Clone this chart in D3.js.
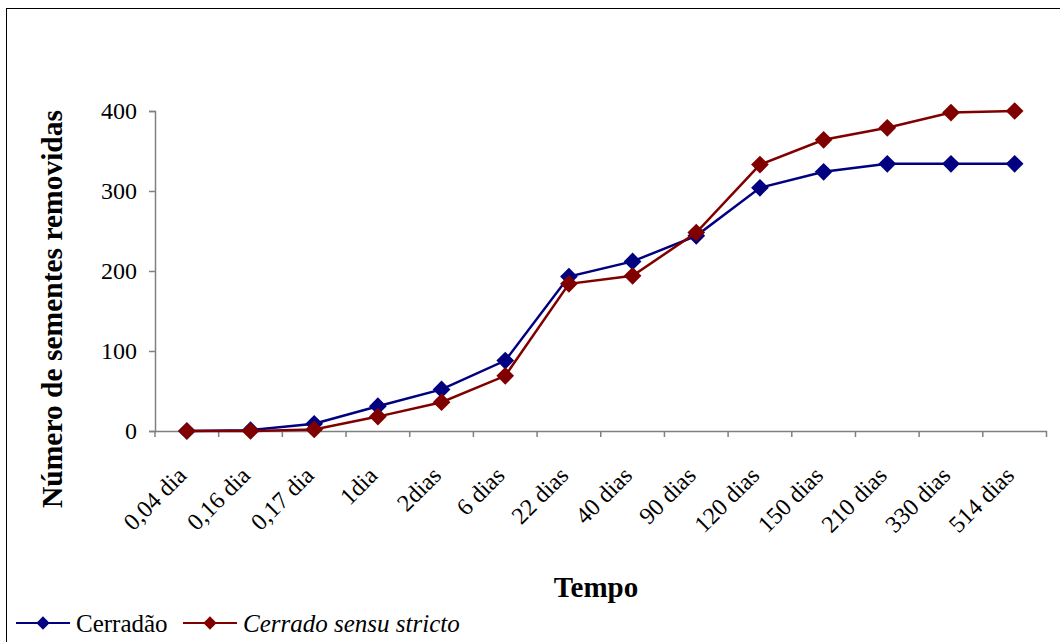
<!DOCTYPE html>
<html>
<head>
<meta charset="utf-8">
<script src="https://cdn.jsdelivr.net/npm/d3@7"></script>
<style>
  body { margin: 0; background: #fff; }
  text { font-family: "Liberation Serif", "Times New Roman", serif; fill: #000; }
</style>
</head>
<body>
<svg id="chart" width="1060" height="642"></svg>
<script>
const categories = ["0,04 dia", "0,16 dia", "0,17 dia", "1dia", "2dias", "6 dias", "22 dias",
  "40 dias", "90 dias", "120 dias", "150 dias", "210 dias", "330 dias", "514 dias"];
const cerradao = [0, 1, 9, 31, 52, 88, 193, 212, 244, 304, 324, 334, 334, 334];
const cerradoSS = [0, 0, 2, 18, 36, 69, 184, 194, 248, 333, 364, 379, 398, 400];
const yTicks = [0, 100, 200, 300, 400];

const series = [
  { name: "Cerradão", values: cerradao, color: "#000080", italic: false },
  { name: "Cerrado sensu stricto", values: cerradoSS, color: "#800000", italic: true }
];

const svg = d3.select("#chart");

// outer frame
svg.append("rect")
  .attr("x", 6.5).attr("y", 8.5)
  .attr("width", 1100).attr("height", 700)
  .attr("fill", "none").attr("stroke", "#000").attr("stroke-width", 1);

const margin = { top: 111, left: 155 },
  width = 1046.5 - 155,
  height = 431 - 111;

const x = d3.scaleBand().domain(categories).range([0, width]);
const y = d3.scaleLinear().domain([0, 400]).range([height, 0]);

const g = svg.append("g").attr("transform", `translate(${margin.left},${margin.top})`);

// x axis
const xAxis = g.append("g")
  .attr("transform", `translate(0,${height})`)
  .call(d3.axisBottom(x).tickSize(0).tickFormat(""));
xAxis.select(".domain").attr("stroke", "#808080").attr("stroke-width", 1.5);
xAxis.selectAll(".tickmark")
  .data(d3.range(categories.length + 1))
  .enter().append("line")
  .attr("x1", (d) => d * x.step()).attr("x2", (d) => d * x.step())
  .attr("y1", 0).attr("y2", 6)
  .attr("stroke", "#808080").attr("stroke-width", 1.5);

xAxis.selectAll(".lbl")
  .data(categories)
  .enter().append("text")
  .attr("class", "lbl")
  .attr("text-anchor", "end")
  .attr("font-size", 24)
  .attr("transform", (d) => `translate(${x(d) + x.bandwidth() / 2 + 1},${46}) rotate(-45)`)
  .text((d) => d);

// y axis
const yAxis = g.append("g")
  .call(d3.axisLeft(y).tickValues(yTicks).tickSize(6).tickPadding(12));
yAxis.select(".domain").attr("stroke", "#808080").attr("stroke-width", 1.5);
yAxis.selectAll(".tick line").attr("stroke", "#808080").attr("stroke-width", 1.5);
yAxis.selectAll(".tick text").attr("font-size", 24);

// lines and markers
const line = d3.line()
  .x((d, i) => x(categories[i]) + x.bandwidth() / 2)
  .y((d) => y(d));

const diamond = d3.symbol().type(d3.symbolDiamond2);

series.forEach((s) => {
  g.append("path")
    .datum(s.values)
    .attr("fill", "none")
    .attr("stroke", s.color)
    .attr("stroke-width", 2.5)
    .attr("d", line);

  g.selectAll(null)
    .data(s.values)
    .enter().append("path")
    .attr("d", diamond.size(200)())
    .attr("fill", s.color)
    .attr("transform", (d, i) => `translate(${x(categories[i]) + x.bandwidth() / 2},${y(d)})`);
});

// axis titles
svg.append("text")
  .attr("transform", "translate(62,309) rotate(-90)")
  .attr("text-anchor", "middle")
  .attr("font-size", 29.5)
  .attr("font-weight", "bold")
  .text("Número de sementes removidas");

svg.append("text")
  .attr("x", 596).attr("y", 597)
  .attr("text-anchor", "middle")
  .attr("font-size", 29)
  .attr("font-weight", "bold")
  .text("Tempo");

// legend
const legendX = [16, 183];
series.forEach((s, i) => {
  const lg = svg.append("g").attr("transform", `translate(${legendX[i]},623)`);
  lg.append("line")
    .attr("x1", 0).attr("x2", 54)
    .attr("stroke", s.color).attr("stroke-width", 2);
  lg.append("path")
    .attr("d", diamond.size(112)())
    .attr("fill", s.color)
    .attr("transform", "translate(27,0)");
  lg.append("text")
    .attr("x", 60).attr("y", 9)
    .attr("font-size", 25)
    .attr("font-style", s.italic ? "italic" : "normal")
    .text(s.name);
});
</script>
</body>
</html>
